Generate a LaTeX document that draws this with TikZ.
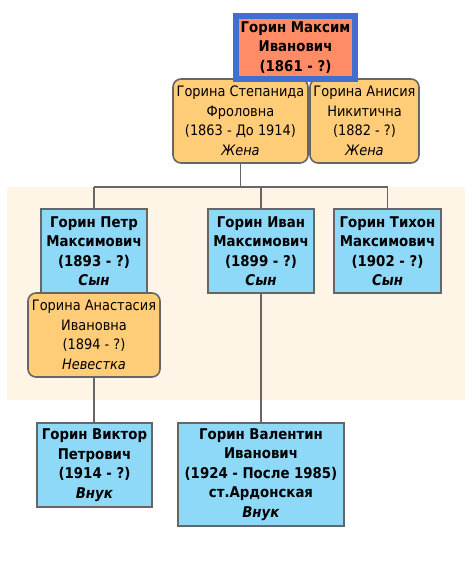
\documentclass[tikz,border=0pt]{standalone}
\usepackage{fontspec}
\setmainfont{DejaVu Sans Condensed}
\definecolor{bluefill}{HTML}{8ED8F8}
\definecolor{orangefill}{HTML}{FFCC77}
\definecolor{salmon}{HTML}{FF8C64}
\definecolor{rootborder}{HTML}{3F6FD0}
\definecolor{band}{HTML}{FEF5E6}
\definecolor{edge}{HTML}{666666}
\tikzset{
  person/.style={draw=edge, line width=1.6pt, fill=bluefill, align=center, inner sep=0pt,
    font=\fontsize{14.8}{19.5}\selectfont\bfseries},
  spouse/.style={draw=edge, line width=1.6pt, fill=orangefill, rounded corners=8pt, align=center, inner sep=0pt,
    font=\fontsize{14.4}{19.5}\selectfont},
  root/.style={draw=rootborder, line width=6pt, fill=salmon, align=center, inner sep=0pt,
    font=\fontsize{14.8}{19.5}\selectfont\bfseries},
  conn/.style={draw=edge, line width=1.6pt},
}
\begin{document}
\begin{tikzpicture}[x=1pt,y=-1pt]
\useasboundingbox (0,0) rectangle (474,561);
\fill[band] (7,187) rectangle (465,400);
\coordinate (bus) at (0,187);
% spouses
\node[spouse, minimum width=135pt, minimum height=84pt] (s1) at (240.5,121) {Горина Степанида\\Фроловна\\(1863 - До 1914)\\\textit{Жена}};
\node[spouse, minimum width=109pt, minimum height=84pt] (s2) at (364.5,121) {Горина Анисия\\Никитична\\(1882 - ?)\\\textit{Жена}};
% root
\node[root, minimum width=119pt, minimum height=63pt] (root) at (295.5,47.5) {Горин Максим\\Иванович\\(1861 - ?)};
% children
\node[person, minimum width=106pt, minimum height=84pt] (petr) at (94,251) {Горин Петр\\Максимович\\(1893 - ?)\\\textit{Сын}};
\node[person, minimum width=106pt, minimum height=84pt] (ivan) at (261,251) {Горин Иван\\Максимович\\(1899 - ?)\\\textit{Сын}};
\node[person, minimum width=107pt, minimum height=84pt] (tikhon) at (387.5,251) {Горин Тихон\\Максимович\\(1902 - ?)\\\textit{Сын}};
\node[spouse, minimum width=132pt, minimum height=84pt] (anast) at (94,335) {Горина Анастасия\\Ивановна\\(1894 - ?)\\\textit{Невестка}};
% grandchildren
\node[person, minimum width=115pt, minimum height=84pt] (viktor) at (94.5,465) {Горин Виктор\\Петрович\\(1914 - ?)\\\textit{Внук}};
\node[person, minimum width=166pt, minimum height=103pt] (valentin) at (261,474.5) {Горин Валентин\\Иванович\\(1924 - После 1985)\\ст.Ардонская\\\textit{Внук}};
% connectors
\draw[conn] (s1.south) -- (s1.south |- bus);
\draw[conn] (petr.north |- bus) -- (tikhon.north |- bus);
\draw[conn] (petr.north |- bus) -- (petr.north);
\draw[conn] (ivan.north |- bus) -- (ivan.north);
\draw[conn] (tikhon.north |- bus) -- (tikhon.north);
\draw[conn] (anast.south) -- (anast.south |- viktor.north);
\draw[conn] (ivan.south) -- (ivan.south |- valentin.north);
\end{tikzpicture}
\end{document}
